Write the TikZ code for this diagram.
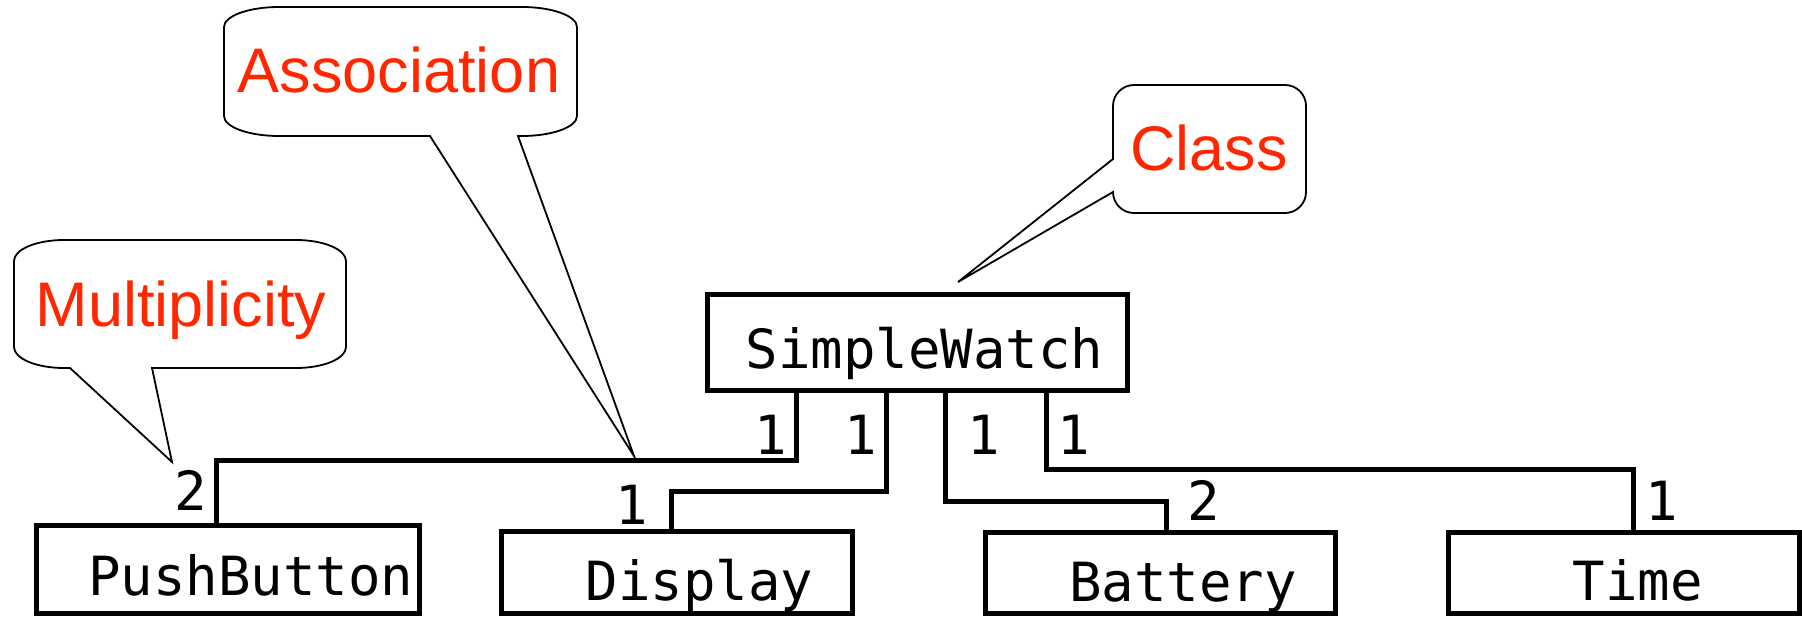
\documentclass[tikz,border=0pt]{standalone}
\usepackage{fontspec}
\newfontfamily\monof{DejaVu Sans Mono}
\newfontfamily\sansf{Liberation Sans}
\definecolor{callred}{RGB}{255,38,0}
\tikzset{
  box/.style={draw, line width=5pt, inner sep=0pt, outer sep=0pt, rectangle},
  conn/.style={draw, line width=5pt, line join=miter},
  cls/.style={inner sep=0pt, outer sep=0pt, anchor=base, font=\monof\fontsize{54}{60}\selectfont},
  num/.style={inner sep=0pt, outer sep=0pt, anchor=base, font=\monof\fontsize{54}{60}\selectfont},
  bubble/.style={draw, line width=1.8pt, line join=miter},
  calltext/.style={inner sep=0pt, outer sep=0pt, anchor=base, text=callred, font=\sansf\fontsize{63}{70}\selectfont}
}
\begin{document}
\begin{tikzpicture}[x=1pt, y=-1pt]
\useasboundingbox (0,0) rectangle (1802,618);

% callout bubbles
\draw[bubble] (14,261) .. controls (14,249.4) and (36.4,240) .. (64,240)
  -- (296,240) .. controls (323.6,240) and (346,249.4) .. (346,261)
  -- (346,347) .. controls (346,358.6) and (323.6,368) .. (296,368)
  -- (152,368) -- (172,462) -- (70,368) -- (64,368)
  .. controls (36.4,368) and (14,358.6) .. (14,347) -- cycle;
\draw[bubble] (224,27) .. controls (224,16) and (248.6,7) .. (279,7)
  -- (522,7) .. controls (552.4,7) and (577,16) .. (577,27)
  -- (577,116) .. controls (577,127) and (552.4,136) .. (522,136)
  -- (518,136) -- (634,456) -- (430,136) -- (279,136)
  .. controls (248.6,136) and (224,127) .. (224,116) -- cycle;
\draw[bubble] (1113,106) .. controls (1113,94.4) and (1122.4,85) .. (1134,85)
  -- (1285,85) .. controls (1296.6,85) and (1306,94.4) .. (1306,106)
  -- (1306,192) .. controls (1306,203.6) and (1296.6,213) .. (1285,213)
  -- (1134,213) .. controls (1122.4,213) and (1113,203.6) .. (1113,192)
  -- (958,282) -- (1113,159) -- cycle;

\node[calltext] (tmult) at (181,326) {Multiplicity};
\node[calltext] (tassoc) at (399,92.7) {Association};
\node[calltext] (tclass) at (1209,170) {Class};

% class boxes
\node[box, minimum width=420pt, minimum height=96.6pt] (sw) at (917.5,342.5) {};
\node[box, minimum width=382.4pt, minimum height=88.3pt] (pb) at (228,569.35) {};
\node[box, minimum width=351pt, minimum height=81.7pt] (disp) at (677,572.65) {};
\node[box, minimum width=350.6pt, minimum height=81.5pt] (bat) at (1160.5,572.75) {};
\node[box, minimum width=351pt, minimum height=81.5pt] (time) at (1623.7,572.75) {};

\node[cls] (swt) at (924.7,368.3) {SimpleWatch};
\node[cls] (pbt) at (250.8,595) {PushButton};
\node[cls] (dispt) at (699.7,600.7) {Display};
\node[cls] (batt) at (1183,601) {Battery};
\node[cls] (timet) at (1637.5,600) {Time};

% associations
\draw[conn] (796.2,0 |- sw.south) |- (216.2,460) -- (216.2,0 |- pb.north);
\draw[conn] (886,0 |- sw.south) |- (671,491.7) -- (671,0 |- disp.north);
\draw[conn] (945,0 |- sw.south) |- (1166.5,501.5) -- (1166.5,0 |- bat.north);
\draw[conn] (1046.3,0 |- sw.south) |- (1633.3,469) -- (1633.3,0 |- time.north);

% multiplicities
\node[num] (m1) at (770.3,454) {1};
\node[num] (m2) at (860.3,454) {1};
\node[num] (m3) at (984.2,454) {1};
\node[num] (m4) at (1073.8,454) {1};
\node[num] (mpb) at (191,510) {2};
\node[num] (mdisp) at (632,524) {1};
\node[num] (mbat) at (1203.3,520) {2};
\node[num] (mtime) at (1662,520.7) {1};
\end{tikzpicture}
\end{document}
